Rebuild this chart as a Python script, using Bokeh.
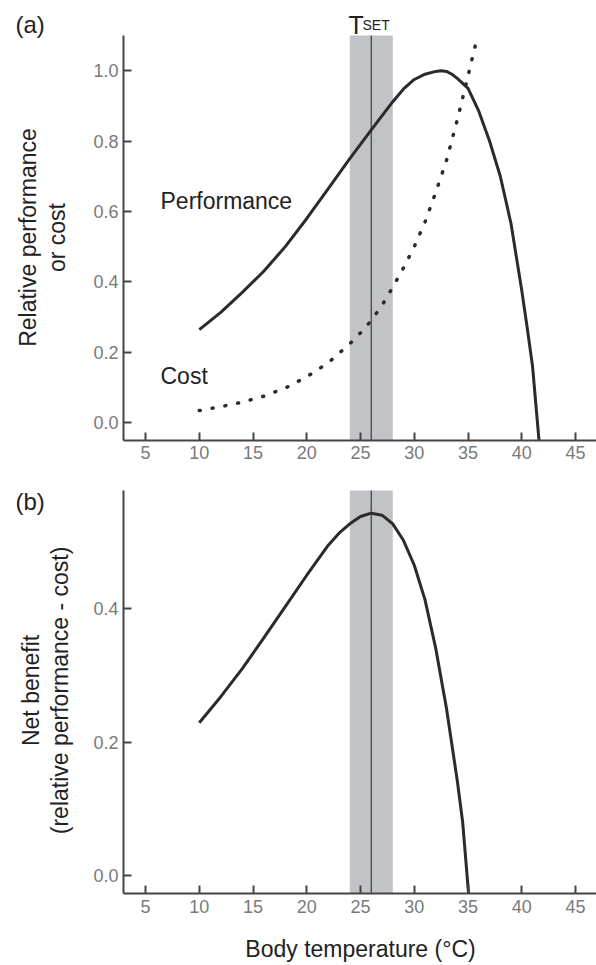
import math
from bokeh.plotting import figure
from bokeh.layouts import column
from bokeh.models import Range1d, BoxAnnotation, Label, FixedTicker, PrintfTickFormatter
from bokeh.embed import file_html
from bokeh.resources import INLINE

# ---- data ----
perf_x = [10, 12, 14, 16, 18, 20, 22, 24, 26, 28, 29, 30, 31, 32, 32.5, 33, 33.5, 34, 35, 36, 37, 38, 39, 40, 40.5, 41, 41.6]
perf_y = [0.264, 0.313, 0.37, 0.43, 0.50, 0.58, 0.665, 0.75, 0.832, 0.912, 0.948, 0.975, 0.99, 0.998, 1.0, 0.998, 0.99, 0.978, 0.95, 0.885, 0.80, 0.70, 0.565, 0.375, 0.27, 0.16, -0.05]

cost_x = [10, 12, 14, 16, 18, 20, 22, 24, 25, 26, 27, 28, 29, 30, 31, 32, 33, 34, 35, 35.9]
cost_y = [0.034, 0.045, 0.058, 0.075, 0.098, 0.13, 0.17, 0.224, 0.255, 0.29, 0.333, 0.385, 0.44, 0.50, 0.57, 0.655, 0.745, 0.86, 0.985, 1.10]

net_x = [10, 12, 14, 16, 18, 20, 22, 23, 24, 25, 26, 27, 28, 29, 30, 31, 32, 33, 34, 34.5, 35.05]
net_y = [0.229, 0.268, 0.31, 0.356, 0.403, 0.45, 0.495, 0.513, 0.527, 0.538, 0.543, 0.540, 0.527, 0.502, 0.465, 0.413, 0.34, 0.25, 0.142, 0.08, -0.027]

t_set = 26
t_band = [24, 28]

x_ticks = [5, 10, 15, 20, 25, 30, 35, 40, 45]
ya_ticks = [0.0, 0.2, 0.4, 0.6, 0.8, 1.0]
yb_ticks = [0.0, 0.2, 0.4]

# axis extents (data units)
X_AX = (2.95, 46.95)
YA_AX = (-0.051, 1.1)
YB_AX = (-0.027, 0.577)

# ---- layout (pixels) ----
W = 596
HA, HB = 480, 485
XPX = 10.75            # px per x unit
YA_PX = 351.8          # px per y unit, panel a
YB_PX = 667.5          # px per y unit, panel b
FRAME_LEFT_PX = 123    # where the y axis sits
A_TOP_PAD, A_BOT_PAD = 35, 40
B_TOP_PAD, B_BOT_PAD = 10, 72
BASE_SHIFT = 8         # label baseline correction (px)

x_lo = X_AX[0] - FRAME_LEFT_PX / XPX
x_hi = x_lo + W / XPX
ya_lo, ya_hi = YA_AX[0] - A_BOT_PAD / YA_PX, YA_AX[1] + A_TOP_PAD / YA_PX
yb_lo, yb_hi = YB_AX[0] - B_BOT_PAD / YB_PX, YB_AX[1] + B_TOP_PAD / YB_PX

FONT = "Liberation Sans"
AXIS_COL = "#444444"
TICK_COL = "#7a7a7a"
CURVE_COL = "#2b2b2b"
TEXT_COL = "#222222"


def make_fig(h, ylo, yhi, yax, yticks):
    p = figure(width=W, height=h, output_backend="svg", toolbar_location=None,
               x_range=Range1d(x_lo, x_hi), y_range=Range1d(ylo, yhi),
               min_border_left=0, min_border_right=0, min_border_top=0, min_border_bottom=0)
    p.xgrid.visible = False
    p.ygrid.visible = False
    p.outline_line_color = None
    p.background_fill_color = "white"
    for ax in (p.xaxis[0], p.yaxis[0]):
        ax.axis_line_color = AXIS_COL
        ax.axis_line_width = 2
        ax.major_tick_line_color = AXIS_COL
        ax.major_tick_line_width = 2
        ax.major_tick_in = 8
        ax.major_tick_out = 0
        ax.minor_tick_line_color = None
        ax.major_label_text_font = FONT
        ax.major_label_text_font_size = "18px"
        ax.major_label_text_color = TICK_COL
    p.xaxis.ticker = FixedTicker(ticks=x_ticks)
    p.yaxis.ticker = FixedTicker(ticks=yticks)
    p.yaxis.formatter = PrintfTickFormatter(format="%.1f")
    p.yaxis.major_label_standoff = 5
    p.xaxis.major_label_standoff = 6
    p.xaxis.fixed_location = yax[0]
    p.xaxis.bounds = X_AX
    p.yaxis.fixed_location = X_AX[0]
    p.yaxis.bounds = yax
    # T_SET band and line
    p.add_layout(BoxAnnotation(left=t_band[0], right=t_band[1], bottom=yax[0], top=yax[1],
                               fill_color="#c2c3c7", fill_alpha=1.0, line_color=None, level="underlay"))
    p.segment(x0=[t_set], y0=[yax[0]], x1=[t_set], y1=[yax[1]], line_color="#555555", line_width=1.5)
    return p


def txt(p, x, y, s, size="23px", align="left", baseline="alphabetic", angle=0.0, color=TEXT_COL):
    p.add_layout(Label(x=x, y=y, text=s, text_font=FONT, text_font_size=size, text_color=color,
                       text_align=align, text_baseline=baseline, angle=angle, text_line_height=1.1))


def px2x(px):
    return x_lo + px / XPX


def pya(py):  # baseline at page-y py in panel a
    return ya_hi - (py - BASE_SHIFT) / YA_PX


def pyb(py):  # baseline at panel-b-local y py
    return yb_hi - (py - BASE_SHIFT) / YB_PX


# ---- panel (a) ----
pa = make_fig(HA, ya_lo, ya_hi, YA_AX, ya_ticks)
pa.line(perf_x, perf_y, line_color=CURVE_COL, line_width=3)
pa.line(cost_x, cost_y, line_color=CURVE_COL, line_width=3.5, line_dash="1 12", line_cap="round")

txt(pa, px2x(160), pya(208.3), "Performance")
txt(pa, px2x(160), pya(383.3), "Cost")
txt(pa, px2x(348), pya(32.5), "T", size="25px")
txt(pa, px2x(362), pya(32.5), "SET", size="14px")
txt(pa, px2x(15), pya(32), "(a)", size="24px")
txt(pa, px2x(42), ya_hi - 237 / YA_PX, "Relative performance\nor cost",
    align="center", baseline="middle", angle=math.pi / 2)

# ---- panel (b) ----
pb = make_fig(HB, yb_lo, yb_hi, YB_AX, yb_ticks)
pb.line(net_x, net_y, line_color=CURVE_COL, line_width=3)
txt(pb, px2x(15), pyb(29), "(b)", size="24px")
txt(pb, px2x(45), yb_hi - 210 / YB_PX, "Net benefit\n(relative performance - cost)",
    align="center", baseline="middle", angle=math.pi / 2)
txt(pb, px2x(360), pyb(477), "Body temperature (°C)", align="center")

layout = column(pa, pb, spacing=0)
open("out.html", "w").write(file_html(layout, INLINE))
